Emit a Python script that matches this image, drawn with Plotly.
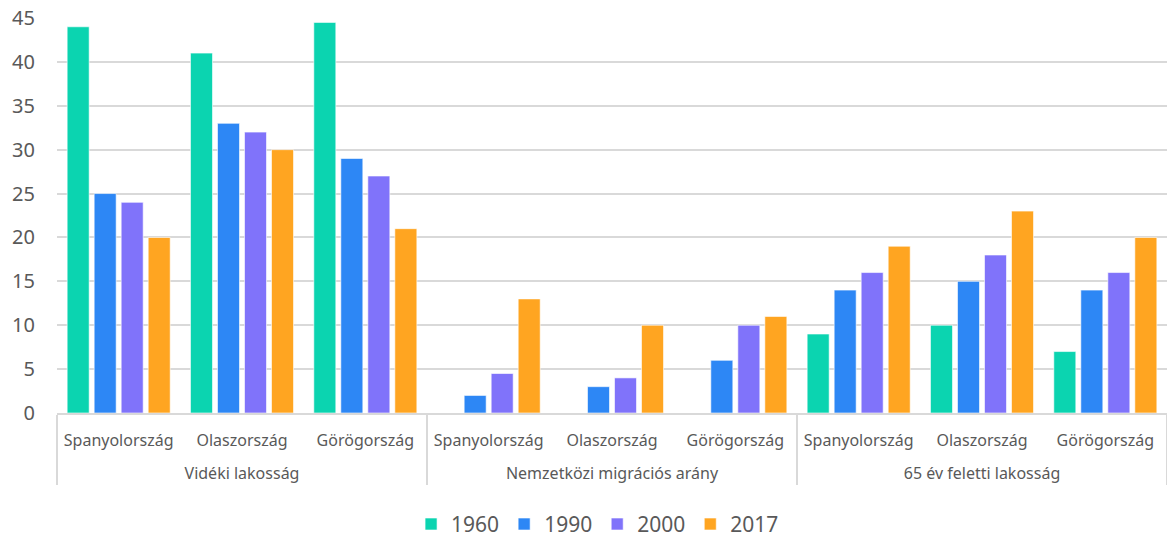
import plotly.graph_objects as go

groups = ["Vidéki lakosság"] * 3 + ["Nemzetközi migrációs arány"] * 3 + ["65 év feletti lakosság"] * 3
countries = ["Spanyolország", "Olaszország", "Görögország"] * 3

v1960 = [44, 41, 44.5, 0, 0, 0, 9, 10, 7]
v1990 = [25, 33, 29, 2, 3, 6, 14, 15, 14]
v2000 = [24, 32, 27, 4.5, 4, 10, 16, 18, 16]
v2017 = [20, 30, 21, 13, 10, 11, 19, 23, 20]

series = [("1960", v1960, "#0bd4b0"), ("1990", v1990, "#2d87f5"),
          ("2000", v2000, "#8073fa"), ("2017", v2017, "#ffa521")]

# leading line break pushes the outer (group) label row further down
group_labels = ["<br>" + g for g in groups]

fig = go.Figure()
for name, vals, col in series:
    fig.add_trace(go.Bar(x=[group_labels, countries], y=vals, name=name,
                         marker=dict(color=col, line=dict(color="rgba(255,255,255,0.6)", width=1))))

fig.update_layout(
    width=1167, height=538,
    margin=dict(l=57, r=0, t=18, b=125, autoexpand=False),
    paper_bgcolor="white", plot_bgcolor="white",
    barmode="group", bargap=0.124, bargroupgap=0.185,
    font=dict(family="Noto Sans", color="#595959"),
    legend=dict(orientation="h", x=0.487, xanchor="center", y=-0.23, yanchor="top",
                font=dict(size=21, color="#595959"), itemwidth=30, traceorder="normal"),
    showlegend=True,
)
fig.update_yaxes(range=[0, 45], dtick=5, showgrid=True, gridcolor="#d9d9d9", gridwidth=1.5,
                 zeroline=False, tickfont=dict(size=20, color="#595959"), ticklabelstandoff=21,
                 automargin=False)
fig.update_xaxes(type="multicategory", showline=True, linecolor="#d9d9d9", linewidth=1.5,
                 showdividers=True, dividercolor="#d9d9d9", dividerwidth=1.5, automargin=False,
                 ticklabelstandoff=12,
                 tickfont=dict(size=16, color="#595959"))

fig.write_html("out.html", post_script="document.body.style.margin='0';",
               config={"displayModeBar": False})
